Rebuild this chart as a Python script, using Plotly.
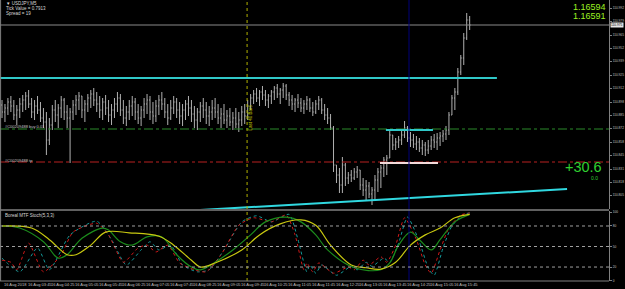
import plotly.graph_objects as go

# ---------------- data ----------------
bar_open = [110.895,110.888,110.892,110.898,110.894,110.885,110.890,110.896,110.900,110.904,
            110.896,110.888,110.894,110.890,110.882,110.878,110.860,110.875,110.890,110.885,
            110.892,110.900,110.888,110.882,110.888,110.895,110.900,110.904,110.890,110.896,
            110.902,110.906,110.900,110.896,110.890,110.898,110.892,110.885,110.890,110.896,
            110.902,110.890,110.882,110.888,110.894,110.898,110.888,110.882,110.890,110.896,
            110.900,110.888,110.884,110.894,110.900,110.896,110.888,110.882,110.892,110.898,
            110.890,110.884,110.890,110.896,110.892,110.886,110.880,110.888,110.894,110.890,
            110.884,110.888,110.892,110.888,110.882,110.886,110.880,110.884,110.878,110.882,
            110.876,110.880,110.888,110.884,110.894,110.902,110.906,110.902,110.908,110.905,
            110.900,110.904,110.908,110.912,110.906,110.910,110.914,110.905,110.900,110.896,
            110.900,110.897,110.892,110.896,110.900,110.892,110.888,110.896,110.900,110.890,
            110.885,110.882,110.872,110.835,110.825,110.815,110.835,110.822,110.825,110.822,
            110.828,110.830,110.815,110.810,110.814,110.806,110.810,110.820,110.828,110.832,
            110.840,110.842,110.865,110.855,110.858,110.860,110.865,110.872,110.862,110.860,
            110.856,110.858,110.852,110.855,110.850,110.854,110.860,110.858,110.862,110.864,
            110.866,110.870,110.885,110.902,110.908,110.928,110.942,110.962,110.980]
bar_high = [110.900,110.896,110.902,110.904,110.900,110.895,110.902,110.905,110.908,110.910,
            110.902,110.900,110.904,110.898,110.892,110.888,110.882,110.895,110.900,110.896,
            110.904,110.902,110.895,110.892,110.900,110.905,110.908,110.904,110.900,110.906,
            110.910,110.912,110.908,110.904,110.902,110.905,110.900,110.896,110.902,110.908,
            110.906,110.900,110.894,110.900,110.904,110.902,110.896,110.894,110.902,110.906,
            110.904,110.898,110.900,110.905,110.908,110.902,110.896,110.900,110.904,110.902,
            110.898,110.896,110.900,110.904,110.900,110.894,110.892,110.898,110.902,110.898,
            110.894,110.900,110.902,110.896,110.892,110.896,110.890,110.892,110.888,110.892,
            110.888,110.894,110.896,110.900,110.906,110.910,110.912,110.910,110.914,110.910,
            110.906,110.910,110.914,110.916,110.912,110.917,110.916,110.908,110.905,110.902,
            110.906,110.902,110.900,110.904,110.902,110.898,110.900,110.904,110.902,110.896,
            110.892,110.886,110.874,110.835,110.832,110.843,110.837,110.828,110.830,110.832,
            110.834,110.830,110.822,110.820,110.818,110.813,110.825,110.832,110.835,110.843,
            110.845,110.870,110.865,110.862,110.864,110.870,110.879,110.874,110.868,110.866,
            110.864,110.862,110.860,110.858,110.860,110.864,110.866,110.867,110.868,110.870,
            110.874,110.888,110.905,110.912,110.932,110.945,110.967,110.987,110.984]
bar_low = [110.882,110.878,110.885,110.888,110.880,110.875,110.882,110.888,110.890,110.892,
           110.882,110.880,110.886,110.878,110.872,110.845,110.855,110.870,110.878,110.872,
           110.882,110.880,110.872,110.837,110.880,110.885,110.890,110.882,110.878,110.888,
           110.892,110.894,110.888,110.882,110.880,110.885,110.878,110.875,110.882,110.888,
           110.884,110.876,110.874,110.880,110.884,110.880,110.876,110.874,110.882,110.886,
           110.880,110.876,110.878,110.885,110.890,110.882,110.875,110.880,110.886,110.882,
           110.876,110.874,110.880,110.884,110.878,110.872,110.870,110.878,110.882,110.876,
           110.874,110.880,110.882,110.876,110.872,110.876,110.872,110.874,110.870,110.872,
           110.868,110.874,110.876,110.880,110.890,110.896,110.898,110.894,110.900,110.894,
           110.892,110.896,110.900,110.902,110.896,110.902,110.900,110.894,110.890,110.888,
           110.892,110.888,110.886,110.890,110.888,110.884,110.886,110.890,110.886,110.880,
           110.876,110.870,110.828,110.817,110.807,110.807,110.814,110.816,110.818,110.820,
           110.822,110.810,110.804,110.800,110.802,110.795,110.800,110.808,110.812,110.823,
           110.825,110.842,110.850,110.850,110.852,110.855,110.862,110.858,110.853,110.852,
           110.850,110.848,110.845,110.844,110.846,110.850,110.852,110.850,110.854,110.858,
           110.860,110.865,110.885,110.890,110.905,110.925,110.935,110.960,110.970]
bar_close = [110.888,110.892,110.898,110.894,110.885,110.890,110.896,110.900,110.904,110.896,
             110.888,110.894,110.890,110.882,110.878,110.860,110.875,110.890,110.885,110.892,
             110.900,110.888,110.882,110.888,110.895,110.900,110.904,110.890,110.896,110.902,
             110.906,110.900,110.896,110.890,110.898,110.892,110.885,110.890,110.896,110.902,
             110.890,110.882,110.888,110.894,110.898,110.888,110.882,110.890,110.896,110.900,
             110.888,110.884,110.894,110.900,110.896,110.888,110.882,110.892,110.898,110.890,
             110.884,110.890,110.896,110.892,110.886,110.880,110.888,110.894,110.890,110.884,
             110.888,110.892,110.888,110.882,110.886,110.880,110.884,110.878,110.882,110.876,
             110.880,110.888,110.884,110.894,110.902,110.906,110.902,110.908,110.905,110.900,
             110.904,110.908,110.912,110.906,110.910,110.914,110.905,110.900,110.896,110.900,
             110.897,110.892,110.896,110.900,110.892,110.888,110.896,110.900,110.890,110.885,
             110.882,110.872,110.835,110.825,110.815,110.835,110.822,110.825,110.822,110.828,
             110.830,110.815,110.810,110.814,110.806,110.810,110.820,110.828,110.832,110.840,
             110.842,110.865,110.855,110.858,110.860,110.865,110.872,110.862,110.860,110.856,
             110.858,110.852,110.855,110.850,110.854,110.860,110.858,110.862,110.864,110.866,
             110.870,110.885,110.902,110.908,110.928,110.942,110.962,110.980,110.975]
bar_idx = list(range(len(bar_close)))

time_labels = ["16 Aug 2018", "16 Aug 03:45", "16 Aug 04:25", "16 Aug 05:05", "16 Aug 05:45",
               "16 Aug 06:25", "16 Aug 07:05", "16 Aug 07:45", "16 Aug 08:25", "16 Aug 09:05",
               "16 Aug 09:45", "16 Aug 10:25", "16 Aug 11:05", "16 Aug 11:45", "16 Aug 12:25",
               "16 Aug 13:05", "16 Aug 13:45", "16 Aug 14:25", "16 Aug 15:05", "16 Aug 15:45"]
time_label_bars = [0, 8, 16, 24, 32, 40, 48, 56, 64, 72, 80, 88, 96, 104, 112, 120, 128, 136, 144, 152]

price_ticks = [110.992, 110.979, 110.965, 110.952, 110.939, 110.925, 110.912, 110.898,
               110.885, 110.872, 110.858, 110.845, 110.831, 110.818, 110.805]

bid_price = 110.975
resistance_price = 110.922
buy_price = 110.871
stop_price = 110.838
box_top_price = 110.870
box_bottom_price = 110.837
trend_x = [66.9, 190.9]
trend_y = [110.790, 110.811]

stoch_levels = [80, 50, 20]
stoch_ticks = [100, 80, 50, 20, 0]

slow_x = [0,10,16,22,25,30,35,43,53,58,64,67,72,81,87,94,101,106,111,118,123,128,133,138,143,148,153,158]
slow_y = [80,77,60,38,38,52,71,70,65,52,30,20,26,45,67,83,89,81,52,23,19,17,27,52,67,77,92,97]
mid_x = [0,6,14,19,22,27,34,36,40,44,49,54,59,64,67,72,78,84,89,96,101,106,110,119,128,131,134,138,141,145,148,153,158]
mid_y = [80,77,57,33,38,62,77,74,57,52,64,64,38,20,16,27,45,67,86,93,86,67,45,19,16,26,52,71,60,45,60,86,97]
fast_x = [0,3,5,9,14,20,24,32,36,41,46,49,52,56,60,65,69,74,80,85,91,96,99,102,103,105,107,112,117,119,122,124,128,130,133,136,140,143,145,148,151,155,158]
fast_y = [30,27,16,55,13,38,71,84,67,27,48,52,42,52,26,16,13,38,81,92,86,96,67,16,26,13,26,11,20,16,30,23,35,27,52,92,60,23,11,45,77,96,99]
sig_x = [0,6,12,16,23,32,37,42,47,50,53,57,61,66,70,75,81,86,91,97,100,103,104,106,108,113,118,120,123,125,129,131,134,137,141,144,146,149,152,156,158]
sig_y = [33,13,48,16,67,87,60,23,45,57,45,52,23,13,16,45,86,95,86,97,60,13,23,11,23,8,21,16,27,21,33,27,55,93,57,19,8,48,80,97,99]

# ---------------- figure ----------------
W, H = 625, 289
ML, MR, MT, MB = 0, 16, 0, 8
PW, PH = W - ML - MR, H - MT - MB
X0 = -0.676
X1 = 205.07
GRAY = "#c0c0c0"
FONT = "Liberation Sans"

def px(x):
    return x / PW

def py(y):
    return 1 - y / PH

fig = go.Figure()

fig.add_trace(go.Ohlc(
    x=bar_idx, open=bar_open, high=bar_high, low=bar_low, close=bar_close,
    increasing=dict(line=dict(color="#b0b0b0", width=1)),
    decreasing=dict(line=dict(color="#b0b0b0", width=1)),
    tickwidth=0.3, xaxis="x", yaxis="y", hoverinfo="skip"))

fig.add_trace(go.Scatter(x=sig_x, y=sig_y, mode="lines", xaxis="x2", yaxis="y2",
                         line=dict(color="#149a9a", width=1, dash="dot", shape="spline", smoothing=0.6)))
fig.add_trace(go.Scatter(x=fast_x, y=fast_y, mode="lines", xaxis="x2", yaxis="y2",
                         line=dict(color="#d01818", width=1, dash="dot", shape="spline", smoothing=0.6)))
fig.add_trace(go.Scatter(x=mid_x, y=mid_y, mode="lines", xaxis="x2", yaxis="y2",
                         line=dict(color="#1c8c1c", width=1.2, shape="spline", smoothing=1.0)))
fig.add_trace(go.Scatter(x=slow_x, y=slow_y, mode="lines", xaxis="x2", yaxis="y2",
                         line=dict(color="#c8c810", width=1.2, shape="spline", smoothing=1.0)))

shapes = []
shapes.append(dict(type="line", xref="paper", yref="y", x0=0, x1=1, y0=bid_price, y1=bid_price,
                   line=dict(color="#8a8a8a", width=1)))
shapes.append(dict(type="line", xref="x", yref="y", x0=X0, x1=167.2, y0=resistance_price, y1=resistance_price,
                   line=dict(color="#30c8c8", width=2)))
shapes.append(dict(type="line", xref="paper", yref="y", x0=0, x1=1, y0=buy_price, y1=buy_price,
                   line=dict(color="#2a8a2a", width=1, dash="dashdot")))
shapes.append(dict(type="line", xref="paper", yref="y", x0=0, x1=1, y0=stop_price, y1=stop_price,
                   line=dict(color="#b82020", width=1, dash="dashdot")))
shapes.append(dict(type="line", xref="x", yref="y", x0=129.7, x1=145.6, y0=box_top_price, y1=box_top_price,
                   line=dict(color="#30c8c8", width=2)))
shapes.append(dict(type="line", xref="x", yref="y", x0=127.7, x1=147.3, y0=box_bottom_price, y1=box_bottom_price,
                   line=dict(color="#f4dada", width=2)))
shapes.append(dict(type="line", xref="x", yref="y", x0=trend_x[0], x1=trend_x[1], y0=trend_y[0], y1=trend_y[1],
                   line=dict(color="#30d8e0", width=2)))
shapes.append(dict(type="line", xref="x", yref="paper", x0=82.8, x1=82.8, y0=0, y1=1,
                   line=dict(color="#b0b000", width=1, dash="dot")))
shapes.append(dict(type="line", xref="x", yref="paper", x0=137.5, x1=137.5, y0=0, y1=1,
                   line=dict(color="#00007a", width=1)))
for lv in stoch_levels:
    shapes.append(dict(type="line", xref="paper", yref="y2", x0=0, x1=1, y0=lv, y1=lv,
                       line=dict(color="#a0a0a0", width=1, dash="dot")))
shapes.append(dict(type="line", xref="paper", yref="paper", x0=0.001, x1=0.001, y0=0, y1=1,
                   line=dict(color="#808080", width=1)))
shapes.append(dict(type="line", xref="paper", yref="paper", x0=0, x1=1, y0=py(210), y1=py(210),
                   line=dict(color="#808080", width=1.5)))
shapes.append(dict(type="line", xref="paper", yref="paper", x0=0, x1=1, y0=0, y1=0,
                   line=dict(color="#808080", width=1)))

ann = []
def txt(x, y, s, size, color, xanchor="left", angle=0):
    ann.append(dict(x=px(x), y=py(y), xref="paper", yref="paper", text=s, showarrow=False,
                    xanchor=xanchor, yanchor="middle", textangle=angle,
                    font=dict(family=FONT, size=size, color=color)))

txt(4, 3.5, "▼ USDJPY,M5", 4.5, "#d8d8d8")
txt(4, 8.5, "Tick Value = 0.7913", 4.5, "#d8d8d8")
txt(4, 13.5, "Spread = 19", 4.5, "#d8d8d8")
txt(608, 7, "1.16594", 9, "#9cf020", xanchor="right")
txt(608, 16.5, "1.16591", 9, "#9cf020", xanchor="right")
txt(583.5, 167, "+30.6", 14.5, "#30d030", xanchor="center")
txt(594, 177.5, "0.0", 5, "#30d030", xanchor="center")
txt(3, 126.5, "#C00209488 buy 0.01", 4, "#c8c8c8")
txt(3, 160, "#C00209488 tp", 4, "#c8c8c8")
txt(250, 117.5, "Last 40 Bars", 4.5, "#c8c800", xanchor="center", angle=-90)
txt(3, 215, "Boreal MTF Stoch(5,3,3)", 4.5, "#d8d8d8")

for b, s in zip(time_label_bars, time_labels):
    ann.append(dict(x=b, y=-0.0125, xref="x2", yref="paper", text=s, showarrow=False,
                    xanchor="left", yanchor="middle", font=dict(family=FONT, size=4.0, color=GRAY)))

ann.append(dict(x=1.002, y=bid_price, xref="paper", yref="y", text="%.3f" % bid_price, showarrow=False,
                xanchor="left", yanchor="middle", bgcolor="#e8e8e8", borderpad=0,
                font=dict(family=FONT, size=3.2, color="#000000")))

axis_common = dict(showgrid=False, zeroline=False)
tick_font = dict(family=FONT, size=3.2, color=GRAY)
fig.update_layout(
    width=W, height=H, margin=dict(l=ML, r=MR, t=MT, b=MB),
    paper_bgcolor="#000000", plot_bgcolor="#000000", showlegend=False,
    xaxis=dict(domain=[0, 1], range=[X0, X1], anchor="y", showticklabels=False, ticks="",
               rangeslider=dict(visible=False), **axis_common),
    xaxis2=dict(domain=[0, 1], range=[X0, X1], anchor="y2", showticklabels=False, ticks="", **axis_common),
    yaxis=dict(domain=[py(209), 1], range=[110.791, 111.0], side="right", anchor="x",
               tickvals=price_ticks, ticktext=["%.3f" % v for v in price_ticks],
               tickfont=tick_font, ticks="outside", ticklen=2, ticklabelstandoff=0,
               tickcolor="#808080", showline=True, linecolor="#808080", automargin=False, **axis_common),
    yaxis2=dict(domain=[0, py(211)], range=[-0.4, 101.9], side="right", anchor="x2",
                tickvals=stoch_ticks, ticktext=[str(v) for v in stoch_ticks],
                tickfont=tick_font, ticks="outside", ticklen=2, ticklabelstandoff=0,
                tickcolor="#808080", showline=True, linecolor="#808080", automargin=False, **axis_common),
    shapes=shapes, annotations=ann,
)

fig.write_html("out.html")
